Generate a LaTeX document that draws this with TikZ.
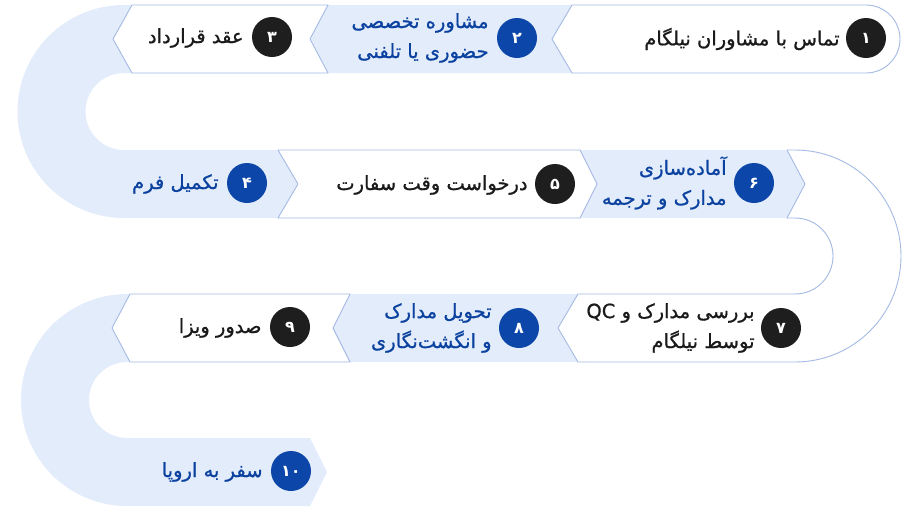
\documentclass[tikz,border=0pt]{standalone}
\usepackage{fontspec}
\newfontfamily\fafont[Script=Arabic,FakeBold=0.9]{DejaVu Sans}
\newfontfamily\fanum[Script=Arabic]{DejaVu Sans Bold}
\TeXXeTstate=1
\definecolor{bandblue}{HTML}{E3ECFB}
\definecolor{edgeblue}{HTML}{A3BAE4}
\definecolor{navy}{HTML}{0B46A8}
\definecolor{darkc}{HTML}{1E1E1E}
\definecolor{txtd}{HTML}{1A1A1A}
\definecolor{txtb}{HTML}{0B42A0}
\tikzset{
  band/.style={fill=bandblue, draw=none},
  whitebox/.style={fill=white, draw=edgeblue, line width=0.9pt, line join=round},
  numdark/.style={circle, fill=darkc, minimum size=40pt, inner sep=0pt, text=white, font=\fanum\fontsize{16}{18}\selectfont},
  numblue/.style={numdark, fill=navy},
  txtdark/.style={anchor=east, align=right, text=txtd, inner sep=0pt, font=\fafont\fontsize{19.5}{30}\selectfont},
  txtblue/.style={txtdark, text=txtb}
}
\begin{document}
\begin{tikzpicture}[x=1pt,y=-1pt]
\useasboundingbox (0,0) rectangle (918,512);
% blue band: row 1, left U-turn, row 2
\path[band] (580,5) -- (124,5) arc[start angle=270,end angle=90,radius=106.5]
  -- (787,218) -- (805,184) -- (787,150) -- (124,150)
  arc[start angle=90,end angle=270,radius=38.5] -- (580,73) -- cycle;
% blue band: row 3, left U-turn, row 4
\path[band] (590,294) -- (127,294) arc[start angle=270,end angle=90,radius=106]
  -- (310,506) -- (327,472) -- (310,438) -- (127,438)
  arc[start angle=90,end angle=270,radius=38] -- (590,362) -- cycle;
% white boxes
\path[whitebox] (552,39) -- (572,5) -- (866,5) arc[start angle=270,end angle=450,radius=34] -- (572,73) -- cycle;
\path[whitebox] (113,39) -- (132,5) -- (328,5) -- (310,39) -- (328,73) -- (132,73) -- cycle;
\path[whitebox] (278,150) -- (580,150) -- (597,184) -- (580,218) -- (278,218) -- (298,184) -- cycle;
\path[whitebox] (558,328) -- (578,294) -- (795,294) arc[start angle=90,end angle=-90,radius=38]
  -- (787,218) -- (805,184) -- (787,150) -- (795,150)
  arc[start angle=270,end angle=450,radius=106] -- (578,362) -- cycle;
\path[whitebox] (112,328) -- (130,294) -- (350,294) -- (333,328) -- (350,362) -- (130,362) -- cycle;
% numbers
\node[numdark] (c1) at (866,38) {۱};
\node[numblue] (c2) at (517,38) {۲};
\node[numdark] (c3) at (272,37) {۳};
\node[numblue] (c4) at (247,183) {۴};
\node[numdark] (c5) at (555,184) {۵};
\node[numblue] (c6) at (754,183) {۶};
\node[numdark] (c7) at (781,328) {۷};
\node[numblue] (c8) at (519,328) {۸};
\node[numdark] (c9) at (290,327) {۹};
\node[numblue] (c10) at (291,471) {۱۰};
% texts
\node[txtdark] (t1) at ([xshift=-6pt,yshift=-1pt]c1.west) {\beginR تماس با مشاوران نیلگام\endR};
\node[txtblue] (t2) at ([xshift=-8pt]c2.west) {\beginR مشاوره تخصصی\endR\\\beginR حضوری یا تلفنی\endR};
\node[txtdark] (t3) at ([xshift=-8pt,yshift=-1pt]c3.west) {\beginR عقد قرارداد\endR};
\node[txtblue] (t4) at ([xshift=-8pt,yshift=-1pt]c4.west) {\beginR تکمیل فرم\endR};
\node[txtdark] (t5) at ([xshift=-7pt,yshift=-1pt]c5.west) {\beginR درخواست وقت سفارت\endR};
\node[txtblue] (t6) at ([xshift=-7pt]c6.west) {\beginR آماده‌سازی\endR\\\beginR مدارک و ترجمه\endR};
\node[txtdark] (t7) at ([xshift=-6pt]c7.west) {\beginR بررسی مدارک و \beginL QC\endL\endR\\\beginR توسط نیلگام\endR};
\node[txtblue] (t8) at ([xshift=-7pt]c8.west) {\beginR تحویل مدارک\endR\\\beginR و انگشت‌نگاری\endR};
\node[txtdark] (t9) at ([xshift=-8pt,yshift=-1pt]c9.west) {\beginR صدور ویزا\endR};
\node[txtblue] (t10) at ([xshift=-8pt,yshift=-1pt]c10.west) {\beginR سفر به اروپا\endR};
\end{tikzpicture}
\end{document}
